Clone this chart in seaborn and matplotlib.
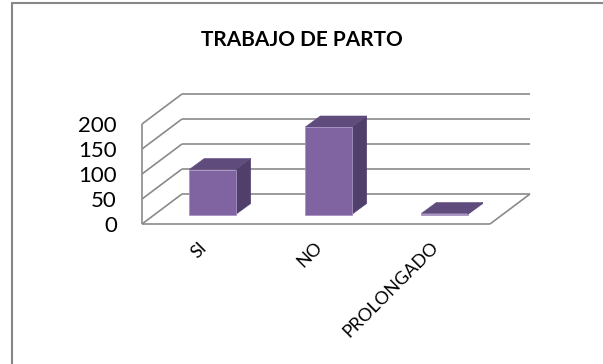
import matplotlib
matplotlib.use("Agg")
import matplotlib.pyplot as plt
import matplotlib.transforms as mtransforms
from matplotlib.patches import Polygon
from matplotlib.lines import Line2D
import seaborn as sns
import pandas as pd

# Datos
categorias = ["SI", "NO", "PROLONGADO"]
valores = [90, 175, 2]
ticks_y = [0, 50, 100, 150, 200]
titulo = "TRABAJO DE PARTO"

sns.set_theme(style="white")
plt.rcParams["font.family"] = ["Lato", "DejaVu Sans"]

W, H = 603, 364
fig = plt.figure(figsize=(W / 100, H / 100), dpi=100)
fig.patch.set_facecolor("white")

# front edge of the floor: 142..490 px, level 0 at 224 px from top, 200 at 124 px
ax = fig.add_axes([142 / W, (H - 224) / H, 348 / W, 100 / H])
ax.set_facecolor("none")

df = pd.DataFrame({"categoria": categorias, "valor": valores})
sns.barplot(data=df, x="categoria", y="valor", width=0.4, color="#8064A2",
            saturation=1, ax=ax, edgecolor="#A693C2", linewidth=0.6, zorder=5)
ax.set_xlim(-0.5, 2.5)
ax.set_ylim(0, 200)
ax.set_xlabel("")
ax.set_ylabel("")
for s in ax.spines.values():
    s.set_visible(False)

# pixel offsets expressed in data units
sx = 3 / 348
sy = 200 / 100


def off(dx_px, dy_px):
    return dx_px * sx, dy_px * sy


depth = off(40, 30)      # depth of the floor / back wall
front = off(12.5, 9.5)   # position of the bar front faces inside the floor
bdepth = off(15, 11)     # depth of each bar

grid_kw = dict(color="#8A8A8A", lw=1.2, clip_on=False, zorder=1,
               solid_capstyle="butt")

# back wall gridlines
for v in ticks_y:
    ax.plot([-0.5 + depth[0], 2.5 + depth[0]], [v + depth[1]] * 2, **grid_kw)
# left wall diagonals
for v in ticks_y:
    ax.plot([-0.5, -0.5 + depth[0]], [v, v + depth[1]], **grid_kw)
# left wall front edge
ax.plot([-0.5, -0.5], [0, 200], **grid_kw)
# floor front edge and right edge
ax.plot([-0.5, 2.5], [0, 0], **grid_kw)
ax.plot([2.5, 2.5 + depth[0]], [0, depth[1]], **grid_kw)

# 3D bars: front faces from seaborn, plus side and top faces
shift = mtransforms.Affine2D().translate(*front) + ax.transData
for patch in list(ax.patches):
    patch.set_transform(shift)
    patch.set_clip_on(False)
    x0 = patch.get_x() + front[0]
    w = patch.get_width()
    h = patch.get_height()
    y0 = front[1]
    side = Polygon([(x0 + w, y0), (x0 + w, y0 + h),
                    (x0 + w + bdepth[0], y0 + h + bdepth[1]),
                    (x0 + w + bdepth[0], y0 + bdepth[1])],
                   closed=True, facecolor="#503F6A", edgecolor="#503F6A",
                   lw=0.4, clip_on=False, zorder=4)
    top = Polygon([(x0, y0 + h), (x0 + w, y0 + h),
                   (x0 + w + bdepth[0], y0 + h + bdepth[1]),
                   (x0 + bdepth[0], y0 + h + bdepth[1])],
                  closed=True, facecolor="#604B7D", edgecolor="#604B7D",
                  lw=0.4, clip_on=False, zorder=4)
    ax.add_patch(side)
    ax.add_patch(top)

# ticks
ax.set_yticks(ticks_y)
ax.set_yticklabels([str(t) for t in ticks_y])
ax.tick_params(axis="y", length=0, pad=18, labelsize=16, labelcolor="black")
ax.set_xticks(range(len(categorias)))
ax.set_xticklabels(categorias, rotation=45, ha="right", va="center",
                   rotation_mode="anchor")
ax.tick_params(axis="x", length=0, pad=15, labelsize=13, labelcolor="black")
for lab in ax.get_xticklabels():
    lab.set_transform(lab.get_transform() +
                      mtransforms.ScaledTranslation(4 / 100, 0, fig.dpi_scale_trans))

# title
fig.text(302 / W, (H - 45.7) / H, titulo, ha="center", va="baseline",
         fontsize=15, fontweight="bold", color="black")

# chart frame (left and top edges)
frame_kw = dict(transform=fig.transFigure, color="#878787", lw=1.5)
fig.add_artist(Line2D([12 / W, 12 / W], [0, (H - 3) / H], **frame_kw))
fig.add_artist(Line2D([12 / W, 1], [(H - 3) / H, (H - 3) / H], **frame_kw))

fig.savefig("out.png", dpi=100)
